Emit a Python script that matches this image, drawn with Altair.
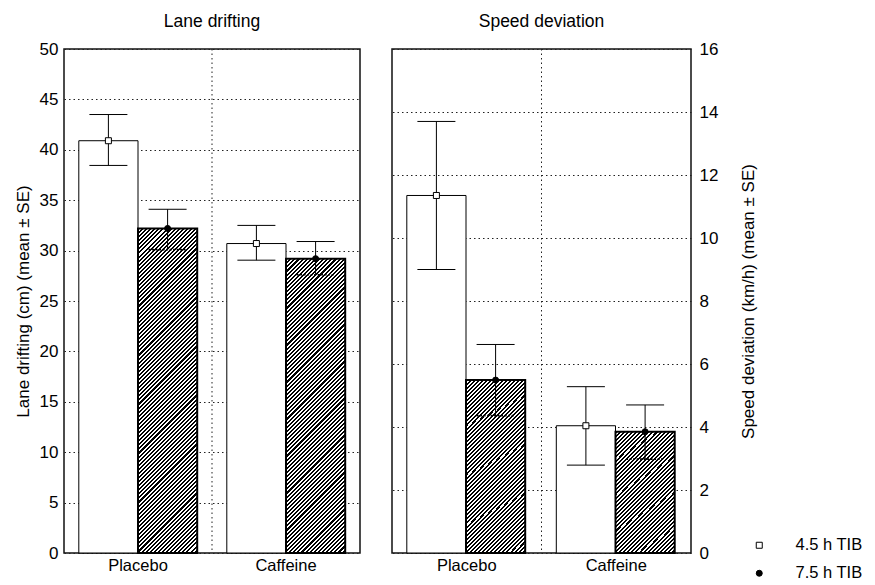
import math
import altair as alt
import pandas as pd

# ---------------- data ----------------
categories = ["Placebo", "Caffeine"]
groups = ["4.5 h TIB", "7.5 h TIB"]

lane_mean_45 = [40.9, 30.7]
lane_hi_45 = [43.5, 32.5]
lane_lo_45 = [38.45, 29.05]
lane_mean_75 = [32.2, 29.2]
lane_hi_75 = [34.1, 30.9]
lane_lo_75 = [30.1, 27.6]

speed_mean_45 = [11.35, 4.04]
speed_hi_45 = [13.7, 5.28]
speed_lo_45 = [9.0, 2.79]
speed_mean_75 = [5.49, 3.85]
speed_hi_75 = [6.62, 4.70]
speed_lo_75 = [4.36, 2.98]

lane_ticks = list(range(0, 51, 5))
speed_ticks = list(range(0, 17, 2))

# ---------------- style ----------------
FONT = "Liberation Sans"
PLOT_H = 504
GRID_DASH = [1.5, 3]


def frame(m45, hi45, lo45, m75, hi75, lo75):
    rows = []
    for i, c in enumerate(categories):
        rows.append(dict(cat=c, group=groups[0], mean=m45[i], hi=hi45[i], lo=lo45[i]))
        rows.append(dict(cat=c, group=groups[1], mean=m75[i], hi=hi75[i], lo=lo75[i]))
    return pd.DataFrame(rows)


def hatch(w, h, period=2.9, frac=0.5):
    """Diagonal '///' hatching as a hard-stop linear gradient (bbox units)."""
    k = (w + h) / (w * w + h * h)
    n = max(1, int(round((w + h) / (math.sqrt(2) * period))))
    stops = []
    for j in range(n):
        a = j / n
        b = (j + frac) / n
        c = (j + 1) / n
        stops += [
            {"offset": a, "color": "black"},
            {"offset": b, "color": "black"},
            {"offset": b, "color": "white"},
            {"offset": c, "color": "white"},
        ]
    return {"gradient": "linear", "stops": stops, "x1": 0, "y1": 0,
            "x2": k * w, "y2": k * h}


def panel(df, ymax, ticks, width, title, ytitle, orient, label_pad, title_pad,
          legend):
    sub = (width / 2) / 2.5
    xaxis = alt.Axis(title=None, labelAngle=0, ticks=False, domain=False, grid=False,
                     labelPadding=4, labelFontSize=16.5, labelFont=FONT)
    xenc = alt.X("cat:N", sort=categories,
                 scale=alt.Scale(domain=categories, paddingInner=0, paddingOuter=0),
                 axis=xaxis)
    xoff = alt.XOffset("group:N", sort=groups,
                       scale=alt.Scale(domain=groups, paddingInner=0, paddingOuter=0.25))
    yscale = alt.Scale(domain=[0, ymax], nice=False, zero=True)
    yaxis = alt.Axis(title=ytitle, orient=orient, values=ticks, ticks=False, domain=False,
                     grid=True, gridDash=GRID_DASH, gridColor="#222", gridWidth=1,
                     labelPadding=label_pad, titlePadding=title_pad, titleAngle=270,
                     labelFontSize=17, titleFontSize=17, titleFontWeight="normal",
                     labelFont=FONT, titleFont=FONT)

    def Y(f):
        return alt.Y(f, type="quantitative", scale=yscale, axis=yaxis)

    base = alt.Chart(df).encode(x=xenc, xOffset=xoff)

    layers = []
    # vertical dotted separator at the boundary between categories
    sep = alt.Chart(pd.DataFrame({"cat": categories[1:]})).mark_rule(
        color="#222", strokeDash=GRID_DASH, strokeWidth=1
    ).encode(x=alt.X("cat:N", sort=categories,
                     scale=alt.Scale(domain=categories, paddingInner=0, paddingOuter=0),
                     axis=xaxis, bandPosition=0))
    layers.append(sep)

    white = base.transform_filter(alt.datum.group == groups[0]).mark_bar(
        fill="white", stroke="black", strokeWidth=1
    ).encode(y=Y("mean"))
    layers.append(white)

    for c in categories:
        m = float(df[(df.cat == c) & (df.group == groups[1])]["mean"].iloc[0])
        h = m / ymax * PLOT_H
        hb = base.transform_filter(
            (alt.datum.group == groups[1]) & (alt.datum.cat == c)
        ).mark_bar(fill=hatch(sub, h), stroke="black", strokeWidth=2).encode(y=Y("mean"))
        layers.append(hb)

    upper = base.mark_rule(color="black", strokeWidth=1).encode(y=Y("mean"), y2="hi:Q")
    lower = base.mark_rule(color="black", strokeWidth=1).encode(y=Y("lo"), y2="mean:Q")
    cap_hi = base.mark_point(shape="M-1,0L1,0", size=1444, stroke="black", strokeWidth=1,
                             filled=False, opacity=1).encode(y=Y("hi"))
    cap_lo_w = base.transform_filter(alt.datum.group == groups[0]).mark_point(
        shape="M-1,0L1,0", size=1444, stroke="black", strokeWidth=1, filled=False, opacity=1
    ).encode(y=Y("lo"))
    cap_lo_h = base.transform_filter(alt.datum.group == groups[1]).mark_point(
        shape="M-1,0L1,0", size=1444, stroke="black", strokeWidth=1.6, filled=False,
        opacity=1, strokeDash=[2, 1.5]
    ).encode(y=Y("lo"))
    leg_kw = {"legend": legend}
    markers = base.mark_point(filled=True, strokeWidth=1, size=36,
                              opacity=1).encode(
        y=Y("mean"),
        shape=alt.Shape("group:N", sort=groups,
                        scale=alt.Scale(domain=groups, range=["square", "circle"]),
                        **leg_kw),
        fill=alt.Fill("group:N", sort=groups,
                      scale=alt.Scale(domain=groups, range=["white", "black"]),
                      **leg_kw),
        stroke=alt.Stroke("group:N", sort=groups,
                          scale=alt.Scale(domain=groups, range=["black", "black"]),
                          **leg_kw),
    )
    layers += [upper, lower, cap_hi, cap_lo_w, cap_lo_h, markers]

    return alt.layer(*layers).properties(
        width=width, height=PLOT_H,
        title=alt.TitleParams(title, fontSize=17.5, font=FONT, fontWeight="normal",
                              color="black", offset=10),
    )


lane_df = frame(lane_mean_45, lane_hi_45, lane_lo_45, lane_mean_75, lane_hi_75, lane_lo_75)
speed_df = frame(speed_mean_45, speed_hi_45, speed_lo_45, speed_mean_75, speed_hi_75, speed_lo_75)

legend = alt.Legend(title=None, orient="none", legendX=359, legendY=488, padding=0,
                    labelFont=FONT, labelFontSize=16.5, labelColor="black", labelOffset=28,
                    symbolSize=36, symbolStrokeColor="black", symbolStrokeWidth=1,
                    rowPadding=11)

left = panel(lane_df, 50, lane_ticks, 296, "Lane drifting",
             "Lane drifting (cm) (mean \u00b1 SE)", "left", 6, 7, None)
right = panel(speed_df, 16, speed_ticks, 299, "Speed deviation",
              "Speed deviation (km/h) (mean \u00b1 SE)", "right", 8, 40, legend)

chart = alt.hconcat(left, right, spacing=30).resolve_legend(
    shape="independent", fill="independent", stroke="independent"
).configure_view(
    stroke="#111", strokeWidth=1.5
).configure_axis(
    labelColor="black", titleColor="black"
).properties(padding={"left": 5, "top": 3, "right": 0, "bottom": 0})

chart.save("out.html", embed_options={"renderer": "svg", "actions": False})
